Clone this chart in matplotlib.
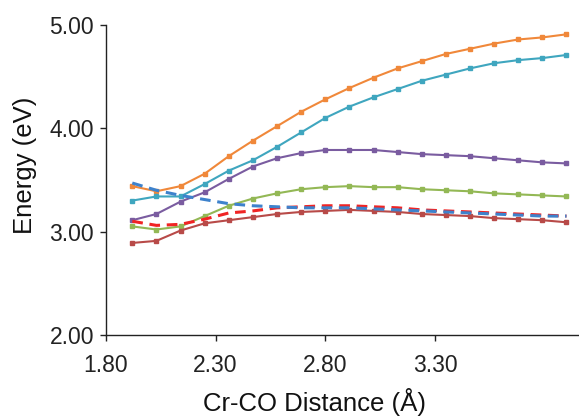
import matplotlib
matplotlib.use("Agg")
import matplotlib.pyplot as plt

plt.rcParams["font.family"] = ["Liberation Sans", "DejaVu Sans"]

# Cr-CO distance (Angstrom)
distance = [1.92, 2.03, 2.14, 2.25, 2.36, 2.47, 2.58, 2.69, 2.80, 2.91,
            3.02, 3.13, 3.24, 3.35, 3.46, 3.57, 3.68, 3.79, 3.90]

# excited state energies (eV)
orange = [3.44, 3.39, 3.44, 3.56, 3.73, 3.88, 4.02, 4.16, 4.28, 4.39,
          4.49, 4.58, 4.65, 4.72, 4.77, 4.82, 4.86, 4.88, 4.91]
teal = [3.30, 3.34, 3.34, 3.46, 3.59, 3.69, 3.82, 3.96, 4.10, 4.21,
        4.30, 4.38, 4.46, 4.52, 4.58, 4.63, 4.66, 4.68, 4.71]
purple = [3.11, 3.17, 3.29, 3.38, 3.51, 3.63, 3.71, 3.76, 3.79, 3.79,
          3.79, 3.77, 3.75, 3.74, 3.73, 3.71, 3.69, 3.67, 3.66]
green = [3.05, 3.02, 3.05, 3.15, 3.25, 3.32, 3.37, 3.41, 3.43, 3.44,
         3.43, 3.43, 3.41, 3.40, 3.39, 3.37, 3.36, 3.35, 3.34]
darkred = [2.89, 2.91, 3.01, 3.08, 3.11, 3.14, 3.17, 3.19, 3.20, 3.21,
           3.20, 3.19, 3.17, 3.16, 3.15, 3.13, 3.12, 3.11, 3.09]
red_dash = [3.10, 3.06, 3.07, 3.12, 3.18, 3.20, 3.23, 3.24, 3.25, 3.25,
            3.24, 3.23, 3.21, 3.20, 3.19, 3.18, 3.17, 3.16, 3.15]
blue_dash = [3.47, 3.40, 3.35, 3.31, 3.27, 3.25, 3.24, 3.23, 3.23, 3.23,
             3.22, 3.21, 3.20, 3.19, 3.18, 3.17, 3.16, 3.15, 3.15]

fig = plt.figure(figsize=(5.79, 4.17), dpi=100)
ax = fig.add_axes([0.183, 0.197, 0.817, 0.743])

solid = [
    (orange, "#F0883A"),
    (teal, "#3FA6BF"),
    (purple, "#7A5CA0"),
    (green, "#93B855"),
    (darkred, "#B84A48"),
]
for vals, col in solid:
    ax.plot(distance, vals, color=col, lw=1.5, marker="s", ms=3.5,
            mec=col, mfc=col)

ax.plot(distance, red_dash, color="#F02424", lw=2.2, ls=(0, (3.5, 2.2)))
ax.plot(distance, blue_dash, color="#3E82CC", lw=2.2, ls=(0, (3.5, 2.2)))

ax.set_xlim(1.80, 3.957)
ax.set_ylim(2.0, 5.0)
ax.set_xticks([1.80, 2.30, 2.80, 3.30])
ax.set_xticklabels(["1.80", "2.30", "2.80", "3.30"])
ax.set_yticks([2.0, 3.0, 4.0, 5.0])
ax.set_yticklabels(["2.00", "3.00", "4.00", "5.00"])

for side in ["top", "right"]:
    ax.spines[side].set_visible(False)
for side in ["left", "bottom"]:
    ax.spines[side].set_color("#222222")
    ax.spines[side].set_linewidth(1.0)

ax.tick_params(axis="both", direction="out", length=4.5, width=1.0,
               color="#222222", labelsize=16.5, labelcolor="#222222")
ax.tick_params(axis="x", pad=9)
ax.tick_params(axis="y", pad=4)

ax.set_xlabel("Cr-CO Distance (Å)", fontsize=18.5, color="#111111",
              va="baseline")
ax.set_ylabel("Energy (eV)", fontsize=18.5, color="#111111")
ax.xaxis.set_label_coords(0.44, -0.245)
ax.yaxis.set_label_coords(-0.146, 0.548)

fig.savefig("out.png", dpi=100)
